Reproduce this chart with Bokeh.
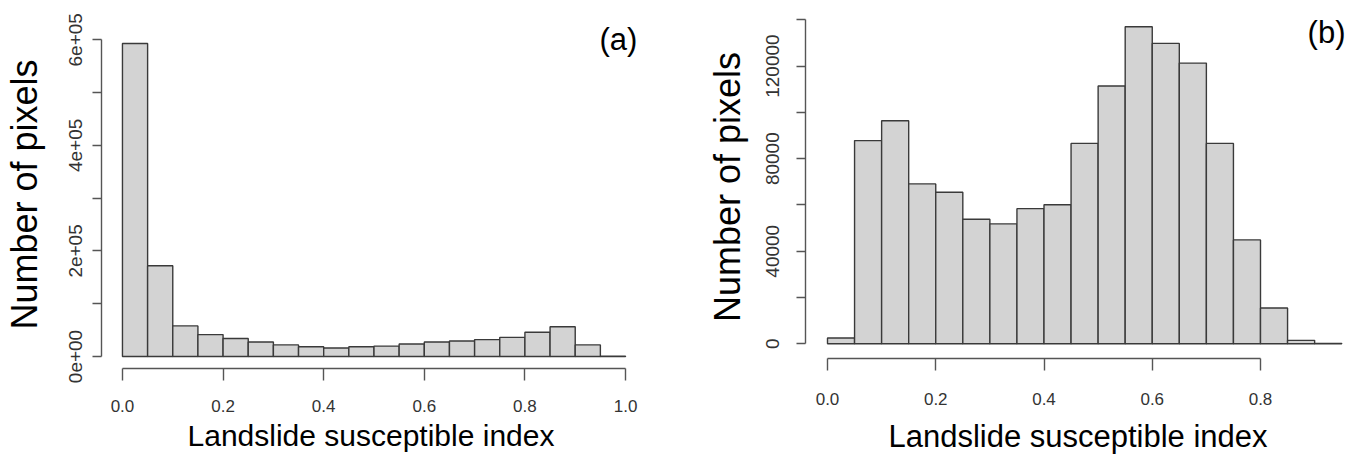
from bokeh.plotting import figure
from bokeh.models import Range1d, FixedTicker, Label
from bokeh.layouts import row
from bokeh.embed import file_html
from bokeh.resources import INLINE

# ---------------- data ----------------
left_edges = [0.00, 0.05, 0.10, 0.15, 0.20, 0.25, 0.30, 0.35, 0.40, 0.45, 0.50,
              0.55, 0.60, 0.65, 0.70, 0.75, 0.80, 0.85, 0.90, 0.95, 1.00]
left_counts = [593000, 172000, 58000, 41500, 34000, 27500, 22000, 18500, 16000, 18500,
               19700, 23600, 27400, 29300, 32000, 36300, 46000, 56500, 22000, 600]

right_edges = [0.00, 0.05, 0.10, 0.15, 0.20, 0.25, 0.30, 0.35, 0.40, 0.45,
               0.50, 0.55, 0.60, 0.65, 0.70, 0.75, 0.80, 0.85, 0.90, 0.95]
right_counts = [2500, 87800, 96400, 69100, 65500, 53800, 51800, 58400, 60100, 86600,
                111400, 137000, 129800, 121300, 86600, 44900, 15500, 1500, 200]

left_xticks = [0.0, 0.2, 0.4, 0.6, 0.8, 1.0]
left_xtick_labels = ["0.0", "0.2", "0.4", "0.6", "0.8", "1.0"]
left_yticks = [0, 100000, 200000, 300000, 400000, 500000, 600000]
left_ytick_labels = ["0e+00", "", "2e+05", "", "4e+05", "", "6e+05"]

right_xticks = [0.0, 0.2, 0.4, 0.6, 0.8]
right_xtick_labels = ["0.0", "0.2", "0.4", "0.6", "0.8"]
right_yticks = [0, 20000, 40000, 60000, 80000, 100000, 120000, 140000]
right_ytick_labels = ["0", "", "40000", "", "80000", "", "120000", ""]

x_title = "Landslide susceptible index"
y_title = "Number of pixels"
panel_tags = ["(a)", "(b)"]

AXIS_COLOR = "#555555"
TICK_TEXT = "#333333"
FONT = "Liberation Sans"


def make_panel(edges, counts, xticks, xlabels, yticks, ylabels, tag,
               x_range, y_range, borders, tag_pos, xstand, ystand, xtitle_size):
    bl, br, bt, bb = borders
    p = figure(width=680, height=458, output_backend="svg", toolbar_location=None,
               x_range=Range1d(*x_range), y_range=Range1d(*y_range),
               min_border_left=bl, min_border_right=br,
               min_border_top=bt, min_border_bottom=bb)
    p.frame_align = False
    p.outline_line_color = None
    p.grid.visible = False
    p.background_fill_color = "white"
    p.border_fill_color = "white"

    p.quad(left=edges[:-1], right=edges[1:], bottom=0, top=counts,
           fill_color="#d3d3d3", line_color="#3a3a3a", line_width=1.4)

    xa = p.xaxis[0]
    xa.ticker = FixedTicker(ticks=xticks)
    xa.major_label_overrides = {t: l for t, l in zip(xticks, xlabels)}
    xa.bounds = (xticks[0], xticks[-1])
    xa.axis_label = x_title
    xa.axis_label_text_font = FONT
    xa.axis_label_text_font_size = xtitle_size
    xa.axis_label_text_font_style = "normal"
    xa.axis_label_text_color = "black"
    xa.axis_label_text_line_height = 1.0
    xa.axis_label_standoff = xstand[1]
    xa.major_label_text_font = FONT
    xa.major_label_text_font_size = "17px"
    xa.major_label_text_color = TICK_TEXT
    xa.major_label_text_line_height = 1.0
    xa.major_label_standoff = xstand[0]
    xa.major_tick_out = 12

    ya = p.yaxis[0]
    ya.ticker = FixedTicker(ticks=yticks)
    ya.major_label_overrides = {t: l for t, l in zip(yticks, ylabels)}
    ya.bounds = (yticks[0], yticks[-1])
    ya.axis_label = y_title
    ya.axis_label_text_font = FONT
    ya.axis_label_text_font_size = "36px"
    ya.axis_label_text_font_style = "normal"
    ya.axis_label_text_color = "black"
    ya.axis_label_text_line_height = 1.0
    ya.axis_label_standoff = ystand[1]
    ya.major_label_orientation = "vertical"
    ya.major_label_text_font = FONT
    ya.major_label_text_font_size = "19px"
    ya.major_label_text_color = TICK_TEXT
    ya.major_label_text_line_height = 1.0
    ya.major_label_standoff = ystand[0]
    ya.major_tick_out = 9

    for ax in (xa, ya):
        ax.axis_line_color = AXIS_COLOR
        ax.axis_line_width = 1.4
        ax.major_tick_line_color = AXIS_COLOR
        ax.major_tick_line_width = 1.4
        ax.major_tick_in = 0
        ax.minor_tick_line_color = None

    p.add_layout(Label(x=tag_pos[0], y=tag_pos[1], text=tag,
                       text_font=FONT, text_font_size="31px",
                       text_align="center", text_baseline="middle",
                       text_color="black"))
    return p


left = make_panel(left_edges, left_counts, left_xticks, left_xtick_labels,
                  left_yticks, left_ytick_labels, panel_tags[0],
                  x_range=(-0.04167, 1.02976), y_range=(-22735, 636566),
                  borders=(100, 40, 20, 90), tag_pos=(0.986, 600600),
                  xstand=(19, 4), ystand=(10, 22), xtitle_size="30px")

right = make_panel(right_edges, right_counts, right_xticks, right_xtick_labels,
                   right_yticks, right_ytick_labels, panel_tags[1],
                   x_range=(-0.04065, 0.96628), y_range=(-6352, 141858),
                   borders=(125, 10, 15, 100), tag_pos=(0.922, 134500),
                   xstand=(22, 11), ystand=(17, 16), xtitle_size="31px")

layout = row(left, right)
open("out.html", "w").write(file_html(layout, INLINE))
